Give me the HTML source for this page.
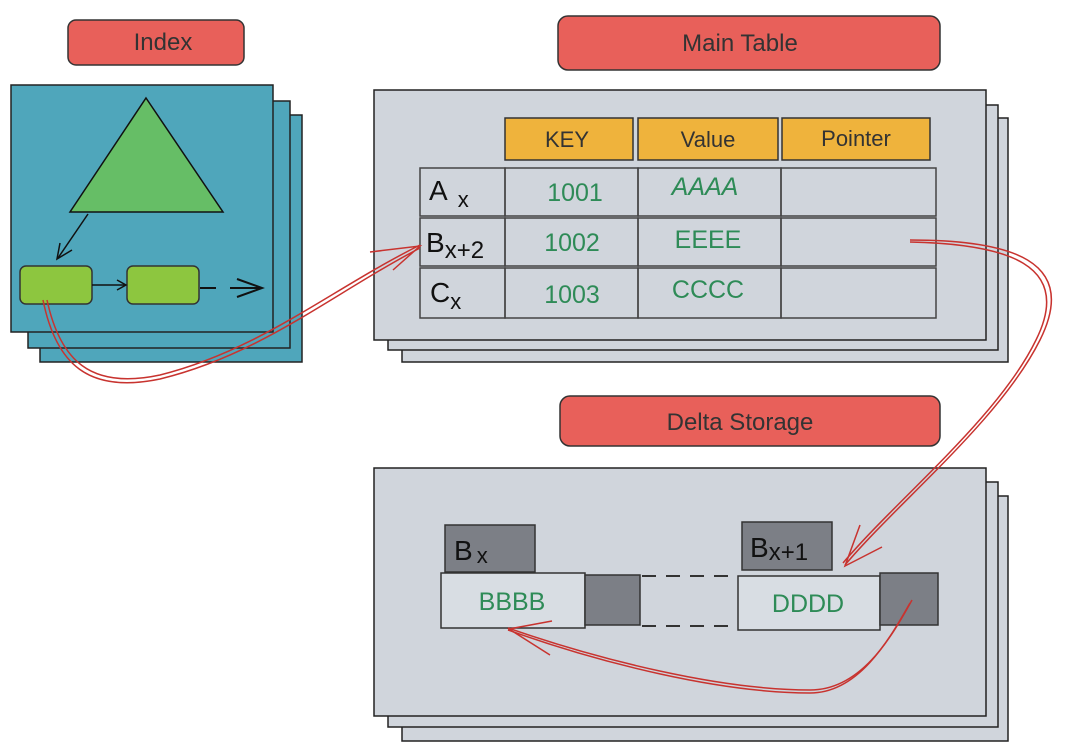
<!DOCTYPE html>
<html><head><meta charset="utf-8"><style>
html,body{margin:0;padding:0;background:#fff;}
svg{display:block;}
.hand{font-family:"Comic Sans MS","Liberation Sans",sans-serif;}
</style></head><body>
<svg width="1080" height="753" viewBox="0 0 1080 753" xmlns="http://www.w3.org/2000/svg">
<g stroke="#222" stroke-width="1.5">
<rect x="40" y="115" width="262" height="247" fill="#4fa6bb"/>
<rect x="28" y="101" width="262" height="247" fill="#4fa6bb"/>
<rect x="11" y="85" width="262" height="247" fill="#4fa6bb"/>
<rect x="402" y="118" width="606" height="244" fill="#d0d5dc"/>
<rect x="388" y="105" width="610" height="245" fill="#d0d5dc"/>
<rect x="374" y="90" width="612" height="250" fill="#d0d5dc"/>
<rect x="402" y="496" width="606" height="245" fill="#d0d5dc"/>
<rect x="388" y="482" width="610" height="245" fill="#d0d5dc"/>
<rect x="374" y="468" width="612" height="248" fill="#d0d5dc"/>
</g>
<g stroke="#333" stroke-width="1.5">
<rect x="68" y="20" width="176" height="45" rx="8" fill="#e8605a"/>
<rect x="558" y="16" width="382" height="54" rx="10" fill="#e8605a"/>
<rect x="560" y="396" width="380" height="50" rx="10" fill="#e8605a"/>
</g>
<g class="hand" fill="#333" font-size="24" text-anchor="middle">
<text x="163" y="50">Index</text>
<text x="740" y="51">Main Table</text>
<text x="740" y="430">Delta Storage</text>
</g>
<polygon points="146,98 223,212 70,212" fill="#66be66" stroke="#111" stroke-width="1.5"/>
<line x1="88" y1="214" x2="58" y2="258" stroke="#111" stroke-width="1.5"/>
<polyline points="60,243 57,259 72,250" fill="none" stroke="#111" stroke-width="1.5"/>
<rect x="20" y="266" width="72" height="38" rx="6" fill="#8dc63f" stroke="#333" stroke-width="1.5"/>
<rect x="127" y="266" width="72" height="38" rx="6" fill="#8dc63f" stroke="#333" stroke-width="1.5"/>
<line x1="92" y1="285" x2="125" y2="285" stroke="#111" stroke-width="1.5"/>
<polyline points="117,280 126,285 117,290" fill="none" stroke="#111" stroke-width="1.5"/>
<line x1="200" y1="288" x2="216" y2="288" stroke="#111" stroke-width="2"/>
<line x1="230" y1="288" x2="262" y2="288" stroke="#111" stroke-width="2"/>
<polyline points="237,279 262,288 237,297" fill="none" stroke="#111" stroke-width="2"/>
<g fill="#efb33c" stroke="#333" stroke-width="1.5">
<rect x="505" y="118" width="128" height="42"/>
<rect x="638" y="118" width="140" height="42"/>
<rect x="782" y="118" width="148" height="42"/>
</g>
<g class="hand" fill="#333" font-size="22" text-anchor="middle">
<text x="567" y="147">KEY</text><text x="708" y="147">Value</text><text x="856" y="146">Pointer</text>
</g>
<g fill="none" stroke="#444" stroke-width="1.5">
<rect x="420" y="168" width="85" height="48"/><rect x="505" y="168" width="133" height="48"/><rect x="638" y="168" width="143" height="48"/><rect x="781" y="168" width="155" height="48"/>
<rect x="420" y="218" width="85" height="48"/><rect x="505" y="218" width="133" height="48"/><rect x="638" y="218" width="143" height="48"/><rect x="781" y="218" width="155" height="48"/>
<rect x="420" y="268" width="85" height="50"/><rect x="505" y="268" width="133" height="50"/><rect x="638" y="268" width="143" height="50"/><rect x="781" y="268" width="155" height="50"/>
</g>
<g font-family="Liberation Sans,sans-serif" fill="#111" font-size="28">
<text x="429" y="200">A<tspan font-size="22" dx="10" dy="7">x</tspan></text>
<text x="426" y="252">B<tspan font-size="24" dy="6">x+2</tspan></text>
<text x="430" y="302">C<tspan font-size="22" dy="7">x</tspan></text>
</g>
<g class="hand" fill="#2e8b57" font-size="25" text-anchor="middle">
<text x="575" y="201">1001</text><text x="705" y="195" font-style="italic">AAAA</text>
<text x="572" y="251">1002</text><text x="708" y="248">EEEE</text>
<text x="572" y="303">1003</text><text x="708" y="298">CCCC</text>
</g>
<g stroke="#333" stroke-width="1.5">
<rect x="445" y="525" width="90" height="47" fill="#7c7f86"/>
<rect x="742" y="522" width="90" height="48" fill="#7c7f86"/>
<rect x="441" y="573" width="144" height="55" fill="#d8dde3"/>
<rect x="585" y="575" width="55" height="50" fill="#7c7f86"/>
<rect x="738" y="576" width="142" height="54" fill="#d8dde3"/>
<rect x="880" y="573" width="58" height="52" fill="#7c7f86"/>
</g>
<g stroke="#333" stroke-width="2" stroke-dasharray="14,10">
<line x1="642" y1="576" x2="738" y2="576"/><line x1="642" y1="626" x2="738" y2="626"/>
</g>
<g font-family="Liberation Sans,sans-serif" fill="#111" font-size="28">
<text x="454" y="560">B<tspan font-size="22" dx="4" dy="3">x</tspan></text>
<text x="750" y="557">B<tspan font-size="24" dy="3">x+1</tspan></text>
</g>
<g class="hand" fill="#2e8b57" font-size="25" text-anchor="middle">
<text x="512" y="610">BBBB</text><text x="808" y="612">DDDD</text>
</g>
<g fill="none" stroke="#c8332f" stroke-width="1.5">
<path d="M47,300 C60,360 90,390 160,375 C260,350 330,290 420,245"/>
<path d="M43,300 C56,364 88,394 160,379 C262,354 332,294 420,248"/>
<polyline points="370,252 420,246 393,270"/>
<path d="M910,240 C1010,240 1080,260 1040,340 C1000,420 900,500 845,565"/>
<path d="M910,242 C1006,244 1074,264 1036,340 C998,418 898,498 843,563"/>
<polyline points="860,525 845,566 882,547"/>
<path d="M912,600 C890,640 860,690 810,690 C720,690 600,660 508,628"/>
<path d="M910,603 C888,642 858,693 810,693 C720,693 600,663 508,630"/>
<polyline points="552,621 509,629 550,655"/>
</g>
</svg>
</body></html>
